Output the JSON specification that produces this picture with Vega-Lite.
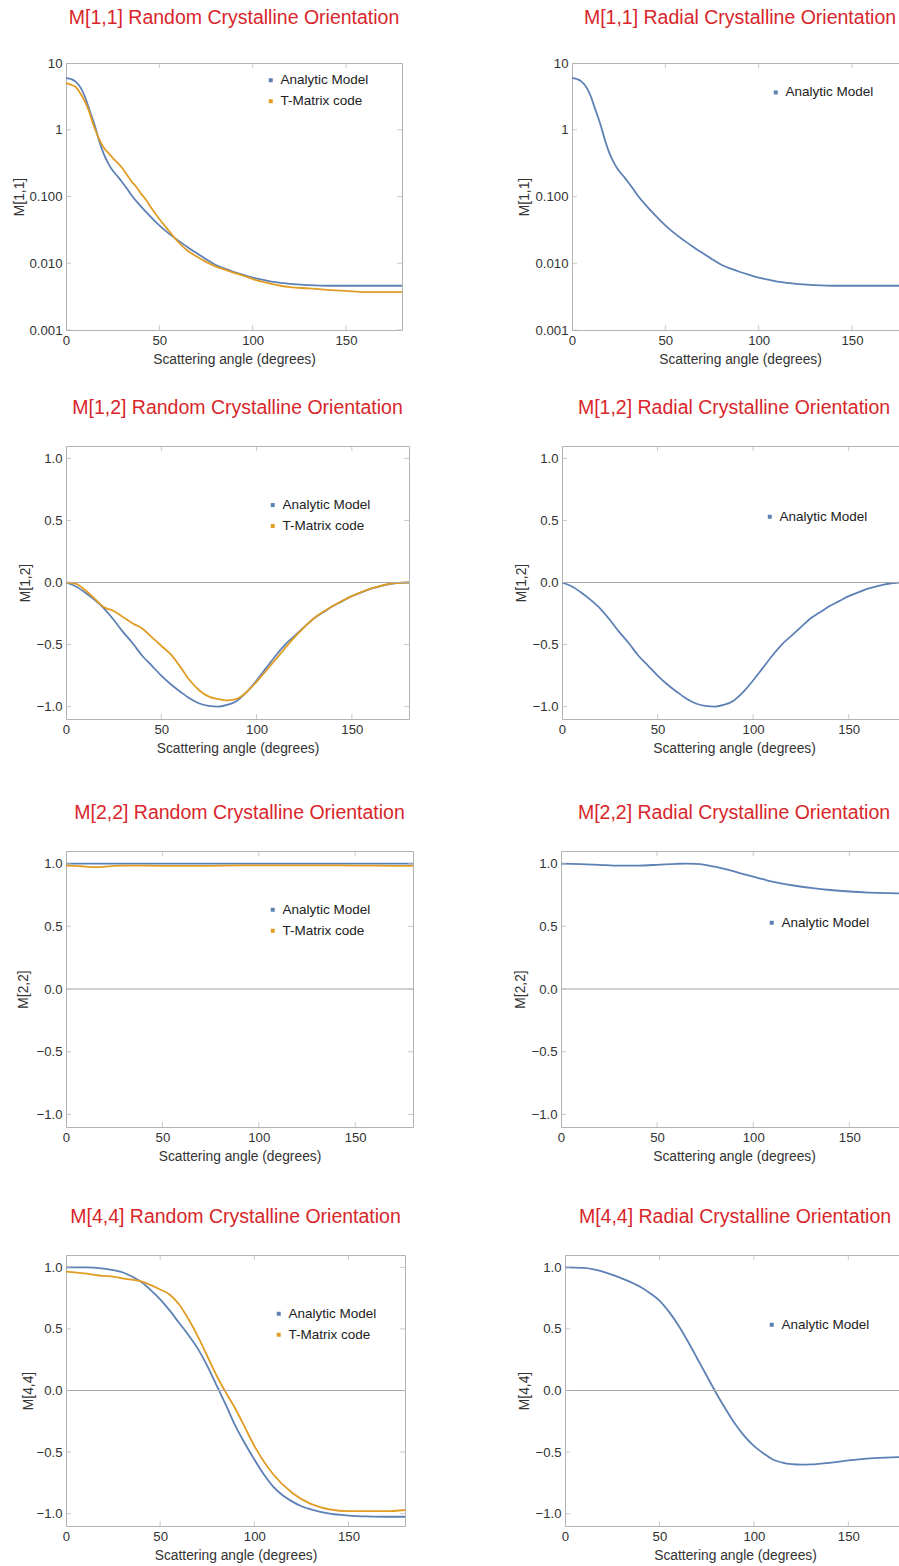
{
  "$schema": "https://vega.github.io/schema/vega-lite/v6.json",
  "background": "white",
  "padding": {"left": 12, "top": 7, "right": 0, "bottom": 0},
  "datasets": {
    "m11": [
      {"angle": 0, "series": "Analytic Model", "value": 6.0},
      {"angle": 3, "series": "Analytic Model", "value": 5.7},
      {"angle": 5, "series": "Analytic Model", "value": 5.3},
      {"angle": 8, "series": "Analytic Model", "value": 4.2},
      {"angle": 10, "series": "Analytic Model", "value": 3.2},
      {"angle": 12, "series": "Analytic Model", "value": 2.2},
      {"angle": 15, "series": "Analytic Model", "value": 1.26},
      {"angle": 18, "series": "Analytic Model", "value": 0.65},
      {"angle": 20, "series": "Analytic Model", "value": 0.45},
      {"angle": 23, "series": "Analytic Model", "value": 0.3},
      {"angle": 25, "series": "Analytic Model", "value": 0.245},
      {"angle": 28, "series": "Analytic Model", "value": 0.195},
      {"angle": 30, "series": "Analytic Model", "value": 0.165},
      {"angle": 33, "series": "Analytic Model", "value": 0.127},
      {"angle": 35, "series": "Analytic Model", "value": 0.105},
      {"angle": 38, "series": "Analytic Model", "value": 0.083},
      {"angle": 40, "series": "Analytic Model", "value": 0.072},
      {"angle": 45, "series": "Analytic Model", "value": 0.051},
      {"angle": 50, "series": "Analytic Model", "value": 0.037},
      {"angle": 55, "series": "Analytic Model", "value": 0.028},
      {"angle": 60, "series": "Analytic Model", "value": 0.022},
      {"angle": 65, "series": "Analytic Model", "value": 0.0175},
      {"angle": 70, "series": "Analytic Model", "value": 0.0142},
      {"angle": 75, "series": "Analytic Model", "value": 0.0115},
      {"angle": 80, "series": "Analytic Model", "value": 0.0095},
      {"angle": 85, "series": "Analytic Model", "value": 0.0083},
      {"angle": 90, "series": "Analytic Model", "value": 0.0074},
      {"angle": 95, "series": "Analytic Model", "value": 0.0067},
      {"angle": 100, "series": "Analytic Model", "value": 0.0061},
      {"angle": 105, "series": "Analytic Model", "value": 0.0057},
      {"angle": 110, "series": "Analytic Model", "value": 0.0053},
      {"angle": 115, "series": "Analytic Model", "value": 0.0051},
      {"angle": 120, "series": "Analytic Model", "value": 0.0049},
      {"angle": 130, "series": "Analytic Model", "value": 0.0047},
      {"angle": 140, "series": "Analytic Model", "value": 0.0046},
      {"angle": 150, "series": "Analytic Model", "value": 0.0046},
      {"angle": 160, "series": "Analytic Model", "value": 0.0046},
      {"angle": 170, "series": "Analytic Model", "value": 0.0046},
      {"angle": 180, "series": "Analytic Model", "value": 0.0046},
      {"angle": 0, "series": "T-Matrix code", "value": 5.0},
      {"angle": 3, "series": "T-Matrix code", "value": 4.7},
      {"angle": 5, "series": "T-Matrix code", "value": 4.4},
      {"angle": 8, "series": "T-Matrix code", "value": 3.4},
      {"angle": 10, "series": "T-Matrix code", "value": 2.7},
      {"angle": 12, "series": "T-Matrix code", "value": 2.0},
      {"angle": 15, "series": "T-Matrix code", "value": 1.12},
      {"angle": 18, "series": "T-Matrix code", "value": 0.7},
      {"angle": 20, "series": "T-Matrix code", "value": 0.55},
      {"angle": 23, "series": "T-Matrix code", "value": 0.44},
      {"angle": 25, "series": "T-Matrix code", "value": 0.38},
      {"angle": 28, "series": "T-Matrix code", "value": 0.31},
      {"angle": 30, "series": "T-Matrix code", "value": 0.27},
      {"angle": 33, "series": "T-Matrix code", "value": 0.205},
      {"angle": 35, "series": "T-Matrix code", "value": 0.17},
      {"angle": 38, "series": "T-Matrix code", "value": 0.135},
      {"angle": 40, "series": "T-Matrix code", "value": 0.112},
      {"angle": 43, "series": "T-Matrix code", "value": 0.088},
      {"angle": 45, "series": "T-Matrix code", "value": 0.072},
      {"angle": 50, "series": "T-Matrix code", "value": 0.046},
      {"angle": 55, "series": "T-Matrix code", "value": 0.031},
      {"angle": 60, "series": "T-Matrix code", "value": 0.021},
      {"angle": 65, "series": "T-Matrix code", "value": 0.0155},
      {"angle": 70, "series": "T-Matrix code", "value": 0.0126},
      {"angle": 75, "series": "T-Matrix code", "value": 0.0105},
      {"angle": 80, "series": "T-Matrix code", "value": 0.009},
      {"angle": 85, "series": "T-Matrix code", "value": 0.008},
      {"angle": 90, "series": "T-Matrix code", "value": 0.0072},
      {"angle": 95, "series": "T-Matrix code", "value": 0.0065},
      {"angle": 100, "series": "T-Matrix code", "value": 0.0058},
      {"angle": 105, "series": "T-Matrix code", "value": 0.0053},
      {"angle": 110, "series": "T-Matrix code", "value": 0.0049},
      {"angle": 115, "series": "T-Matrix code", "value": 0.0046},
      {"angle": 120, "series": "T-Matrix code", "value": 0.0044},
      {"angle": 130, "series": "T-Matrix code", "value": 0.0042},
      {"angle": 140, "series": "T-Matrix code", "value": 0.004},
      {"angle": 150, "series": "T-Matrix code", "value": 0.00385},
      {"angle": 160, "series": "T-Matrix code", "value": 0.0037},
      {"angle": 170, "series": "T-Matrix code", "value": 0.0037},
      {"angle": 180, "series": "T-Matrix code", "value": 0.0037}
    ],
    "m12": [
      {"angle": 0, "series": "Analytic Model", "value": 0},
      {"angle": 5, "series": "Analytic Model", "value": -0.03},
      {"angle": 10, "series": "Analytic Model", "value": -0.08},
      {"angle": 15, "series": "Analytic Model", "value": -0.14},
      {"angle": 20, "series": "Analytic Model", "value": -0.21},
      {"angle": 25, "series": "Analytic Model", "value": -0.3},
      {"angle": 30, "series": "Analytic Model", "value": -0.4},
      {"angle": 35, "series": "Analytic Model", "value": -0.49},
      {"angle": 40, "series": "Analytic Model", "value": -0.59},
      {"angle": 45, "series": "Analytic Model", "value": -0.67},
      {"angle": 50, "series": "Analytic Model", "value": -0.75},
      {"angle": 55, "series": "Analytic Model", "value": -0.82},
      {"angle": 60, "series": "Analytic Model", "value": -0.88},
      {"angle": 65, "series": "Analytic Model", "value": -0.935},
      {"angle": 70, "series": "Analytic Model", "value": -0.975},
      {"angle": 75, "series": "Analytic Model", "value": -0.995},
      {"angle": 80, "series": "Analytic Model", "value": -1.0},
      {"angle": 85, "series": "Analytic Model", "value": -0.985},
      {"angle": 90, "series": "Analytic Model", "value": -0.95},
      {"angle": 95, "series": "Analytic Model", "value": -0.88},
      {"angle": 100, "series": "Analytic Model", "value": -0.79},
      {"angle": 105, "series": "Analytic Model", "value": -0.69},
      {"angle": 110, "series": "Analytic Model", "value": -0.59},
      {"angle": 115, "series": "Analytic Model", "value": -0.5},
      {"angle": 120, "series": "Analytic Model", "value": -0.43},
      {"angle": 125, "series": "Analytic Model", "value": -0.36},
      {"angle": 130, "series": "Analytic Model", "value": -0.29},
      {"angle": 135, "series": "Analytic Model", "value": -0.24},
      {"angle": 140, "series": "Analytic Model", "value": -0.19},
      {"angle": 145, "series": "Analytic Model", "value": -0.15},
      {"angle": 150, "series": "Analytic Model", "value": -0.11},
      {"angle": 155, "series": "Analytic Model", "value": -0.08},
      {"angle": 160, "series": "Analytic Model", "value": -0.05},
      {"angle": 165, "series": "Analytic Model", "value": -0.03},
      {"angle": 170, "series": "Analytic Model", "value": -0.012},
      {"angle": 175, "series": "Analytic Model", "value": -0.003},
      {"angle": 180, "series": "Analytic Model", "value": 0},
      {"angle": 0, "series": "T-Matrix code", "value": 0},
      {"angle": 5, "series": "T-Matrix code", "value": -0.01},
      {"angle": 10, "series": "T-Matrix code", "value": -0.06},
      {"angle": 15, "series": "T-Matrix code", "value": -0.13},
      {"angle": 20, "series": "T-Matrix code", "value": -0.2},
      {"angle": 25, "series": "T-Matrix code", "value": -0.23},
      {"angle": 30, "series": "T-Matrix code", "value": -0.28},
      {"angle": 35, "series": "T-Matrix code", "value": -0.33},
      {"angle": 40, "series": "T-Matrix code", "value": -0.37},
      {"angle": 45, "series": "T-Matrix code", "value": -0.44},
      {"angle": 50, "series": "T-Matrix code", "value": -0.51},
      {"angle": 55, "series": "T-Matrix code", "value": -0.58},
      {"angle": 60, "series": "T-Matrix code", "value": -0.68},
      {"angle": 65, "series": "T-Matrix code", "value": -0.79},
      {"angle": 70, "series": "T-Matrix code", "value": -0.87},
      {"angle": 75, "series": "T-Matrix code", "value": -0.92},
      {"angle": 80, "series": "T-Matrix code", "value": -0.94},
      {"angle": 85, "series": "T-Matrix code", "value": -0.95},
      {"angle": 90, "series": "T-Matrix code", "value": -0.935},
      {"angle": 95, "series": "T-Matrix code", "value": -0.88},
      {"angle": 100, "series": "T-Matrix code", "value": -0.8},
      {"angle": 110, "series": "T-Matrix code", "value": -0.62},
      {"angle": 120, "series": "T-Matrix code", "value": -0.44},
      {"angle": 130, "series": "T-Matrix code", "value": -0.29},
      {"angle": 140, "series": "T-Matrix code", "value": -0.19},
      {"angle": 150, "series": "T-Matrix code", "value": -0.11},
      {"angle": 160, "series": "T-Matrix code", "value": -0.05},
      {"angle": 170, "series": "T-Matrix code", "value": -0.01},
      {"angle": 180, "series": "T-Matrix code", "value": 0}
    ],
    "m22rand": [
      {"angle": 0, "series": "Analytic Model", "value": 1.0},
      {"angle": 45, "series": "Analytic Model", "value": 1.0},
      {"angle": 90, "series": "Analytic Model", "value": 1.0},
      {"angle": 135, "series": "Analytic Model", "value": 1.0},
      {"angle": 180, "series": "Analytic Model", "value": 1.0},
      {"angle": 0, "series": "T-Matrix code", "value": 0.984},
      {"angle": 5, "series": "T-Matrix code", "value": 0.982},
      {"angle": 10, "series": "T-Matrix code", "value": 0.976},
      {"angle": 15, "series": "T-Matrix code", "value": 0.971},
      {"angle": 20, "series": "T-Matrix code", "value": 0.975},
      {"angle": 25, "series": "T-Matrix code", "value": 0.982},
      {"angle": 30, "series": "T-Matrix code", "value": 0.984},
      {"angle": 50, "series": "T-Matrix code", "value": 0.982},
      {"angle": 70, "series": "T-Matrix code", "value": 0.982},
      {"angle": 90, "series": "T-Matrix code", "value": 0.985},
      {"angle": 110, "series": "T-Matrix code", "value": 0.986},
      {"angle": 130, "series": "T-Matrix code", "value": 0.986},
      {"angle": 150, "series": "T-Matrix code", "value": 0.984},
      {"angle": 170, "series": "T-Matrix code", "value": 0.982},
      {"angle": 180, "series": "T-Matrix code", "value": 0.981}
    ],
    "m22rad": [
      {"angle": 0, "series": "Analytic Model", "value": 1.0},
      {"angle": 10, "series": "Analytic Model", "value": 0.996},
      {"angle": 20, "series": "Analytic Model", "value": 0.99},
      {"angle": 30, "series": "Analytic Model", "value": 0.983},
      {"angle": 40, "series": "Analytic Model", "value": 0.984},
      {"angle": 50, "series": "Analytic Model", "value": 0.99},
      {"angle": 60, "series": "Analytic Model", "value": 0.998},
      {"angle": 65, "series": "Analytic Model", "value": 1.0},
      {"angle": 70, "series": "Analytic Model", "value": 0.998},
      {"angle": 75, "series": "Analytic Model", "value": 0.99},
      {"angle": 80, "series": "Analytic Model", "value": 0.975},
      {"angle": 85, "series": "Analytic Model", "value": 0.957},
      {"angle": 90, "series": "Analytic Model", "value": 0.937},
      {"angle": 95, "series": "Analytic Model", "value": 0.916},
      {"angle": 100, "series": "Analytic Model", "value": 0.895},
      {"angle": 105, "series": "Analytic Model", "value": 0.875},
      {"angle": 110, "series": "Analytic Model", "value": 0.855},
      {"angle": 115, "series": "Analytic Model", "value": 0.84},
      {"angle": 120, "series": "Analytic Model", "value": 0.827},
      {"angle": 130, "series": "Analytic Model", "value": 0.806},
      {"angle": 140, "series": "Analytic Model", "value": 0.789},
      {"angle": 150, "series": "Analytic Model", "value": 0.777},
      {"angle": 160, "series": "Analytic Model", "value": 0.769},
      {"angle": 170, "series": "Analytic Model", "value": 0.764},
      {"angle": 180, "series": "Analytic Model", "value": 0.762}
    ],
    "m44rand": [
      {"angle": 0, "series": "Analytic Model", "value": 1.0},
      {"angle": 10, "series": "Analytic Model", "value": 1.0},
      {"angle": 20, "series": "Analytic Model", "value": 0.99},
      {"angle": 25, "series": "Analytic Model", "value": 0.978},
      {"angle": 30, "series": "Analytic Model", "value": 0.96},
      {"angle": 35, "series": "Analytic Model", "value": 0.925},
      {"angle": 40, "series": "Analytic Model", "value": 0.88},
      {"angle": 45, "series": "Analytic Model", "value": 0.815},
      {"angle": 50, "series": "Analytic Model", "value": 0.74},
      {"angle": 55, "series": "Analytic Model", "value": 0.65},
      {"angle": 60, "series": "Analytic Model", "value": 0.55},
      {"angle": 65, "series": "Analytic Model", "value": 0.45},
      {"angle": 70, "series": "Analytic Model", "value": 0.34},
      {"angle": 75, "series": "Analytic Model", "value": 0.2},
      {"angle": 80, "series": "Analytic Model", "value": 0.04},
      {"angle": 85, "series": "Analytic Model", "value": -0.12},
      {"angle": 90, "series": "Analytic Model", "value": -0.29},
      {"angle": 95, "series": "Analytic Model", "value": -0.43},
      {"angle": 100, "series": "Analytic Model", "value": -0.56},
      {"angle": 105, "series": "Analytic Model", "value": -0.68},
      {"angle": 110, "series": "Analytic Model", "value": -0.78},
      {"angle": 115, "series": "Analytic Model", "value": -0.85},
      {"angle": 120, "series": "Analytic Model", "value": -0.9},
      {"angle": 125, "series": "Analytic Model", "value": -0.94},
      {"angle": 130, "series": "Analytic Model", "value": -0.965},
      {"angle": 140, "series": "Analytic Model", "value": -1.0},
      {"angle": 150, "series": "Analytic Model", "value": -1.015},
      {"angle": 160, "series": "Analytic Model", "value": -1.022},
      {"angle": 170, "series": "Analytic Model", "value": -1.025},
      {"angle": 180, "series": "Analytic Model", "value": -1.025},
      {"angle": 0, "series": "T-Matrix code", "value": 0.965},
      {"angle": 10, "series": "T-Matrix code", "value": 0.95},
      {"angle": 20, "series": "T-Matrix code", "value": 0.93},
      {"angle": 25, "series": "T-Matrix code", "value": 0.925},
      {"angle": 30, "series": "T-Matrix code", "value": 0.91},
      {"angle": 40, "series": "T-Matrix code", "value": 0.885},
      {"angle": 45, "series": "T-Matrix code", "value": 0.856},
      {"angle": 50, "series": "T-Matrix code", "value": 0.82},
      {"angle": 55, "series": "T-Matrix code", "value": 0.78},
      {"angle": 60, "series": "T-Matrix code", "value": 0.7},
      {"angle": 65, "series": "T-Matrix code", "value": 0.58},
      {"angle": 70, "series": "T-Matrix code", "value": 0.44},
      {"angle": 75, "series": "T-Matrix code", "value": 0.28},
      {"angle": 80, "series": "T-Matrix code", "value": 0.12},
      {"angle": 85, "series": "T-Matrix code", "value": -0.02},
      {"angle": 90, "series": "T-Matrix code", "value": -0.15},
      {"angle": 95, "series": "T-Matrix code", "value": -0.3},
      {"angle": 100, "series": "T-Matrix code", "value": -0.45},
      {"angle": 110, "series": "T-Matrix code", "value": -0.68},
      {"angle": 120, "series": "T-Matrix code", "value": -0.83},
      {"angle": 130, "series": "T-Matrix code", "value": -0.92},
      {"angle": 140, "series": "T-Matrix code", "value": -0.965},
      {"angle": 150, "series": "T-Matrix code", "value": -0.98},
      {"angle": 160, "series": "T-Matrix code", "value": -0.98},
      {"angle": 170, "series": "T-Matrix code", "value": -0.98},
      {"angle": 180, "series": "T-Matrix code", "value": -0.97}
    ],
    "m44rad": [
      {"angle": 0, "series": "Analytic Model", "value": 1.0},
      {"angle": 10, "series": "Analytic Model", "value": 0.995},
      {"angle": 20, "series": "Analytic Model", "value": 0.965},
      {"angle": 30, "series": "Analytic Model", "value": 0.91},
      {"angle": 40, "series": "Analytic Model", "value": 0.84},
      {"angle": 45, "series": "Analytic Model", "value": 0.79},
      {"angle": 50, "series": "Analytic Model", "value": 0.73},
      {"angle": 55, "series": "Analytic Model", "value": 0.64},
      {"angle": 60, "series": "Analytic Model", "value": 0.53},
      {"angle": 65, "series": "Analytic Model", "value": 0.4},
      {"angle": 70, "series": "Analytic Model", "value": 0.26},
      {"angle": 75, "series": "Analytic Model", "value": 0.12},
      {"angle": 80, "series": "Analytic Model", "value": -0.02},
      {"angle": 85, "series": "Analytic Model", "value": -0.15},
      {"angle": 90, "series": "Analytic Model", "value": -0.27},
      {"angle": 95, "series": "Analytic Model", "value": -0.37},
      {"angle": 100, "series": "Analytic Model", "value": -0.45},
      {"angle": 105, "series": "Analytic Model", "value": -0.51},
      {"angle": 110, "series": "Analytic Model", "value": -0.56},
      {"angle": 115, "series": "Analytic Model", "value": -0.585},
      {"angle": 120, "series": "Analytic Model", "value": -0.598},
      {"angle": 125, "series": "Analytic Model", "value": -0.602},
      {"angle": 130, "series": "Analytic Model", "value": -0.6},
      {"angle": 140, "series": "Analytic Model", "value": -0.587},
      {"angle": 150, "series": "Analytic Model", "value": -0.568},
      {"angle": 160, "series": "Analytic Model", "value": -0.553},
      {"angle": 170, "series": "Analytic Model", "value": -0.545},
      {"angle": 180, "series": "Analytic Model", "value": -0.54}
    ],
    "xticks": [{"t": 0}, {"t": 50}, {"t": 100}, {"t": 150}],
    "ylogticks": [{"t": 0.001}, {"t": 0.01}, {"t": 0.1}, {"t": 1}, {"t": 10}],
    "ylinticks": [{"t": -1}, {"t": -0.5}, {"t": 0}, {"t": 0.5}, {"t": 1}]
  },
  "spacing": 30,
  "resolve": {"scale": {"color": "independent"}},
  "vconcat": [
    {
      "hconcat": [
        {
          "width": 336, "height": 267,
          "title": {"text": "M[1,1] Random Crystalline Orientation", "offset": 28},
          "layer": [
            {
              "data": {"name": "m11"},
              "mark": {"type": "line", "strokeWidth": 1.8, "interpolate": "monotone"},
              "encoding": {
                "x": {"field": "angle", "type": "quantitative", "scale": {"domain": [0, 180], "nice": false, "zero": false}, "axis": {"values": [0, 50, 100, 150], "title": "Scattering angle (degrees)"}},
                "y": {"field": "value", "type": "quantitative", "scale": {"type": "log", "domain": [0.001, 10], "nice": false}, "axis": {"values": [0.001, 0.01, 0.1, 1, 10], "labelExpr": "datum.value >= 1 ? format(datum.value, 'd') : format(datum.value, '.3f')", "title": "M[1,1]", "titlePadding": 2}},
                "color": {"field": "series", "type": "nominal", "scale": {"domain": ["Analytic Model", "T-Matrix code"], "range": ["#5e81b5", "#e19c24"]}, "legend": {"title": null, "legendX": 198, "legendY": 10.5}}
              }
            },
            {"data": {"name": "xticks"}, "mark": {"type": "tick", "orient": "vertical", "size": 10, "thickness": 1, "color": "#b3b3b3", "clip": true}, "encoding": {"x": {"field": "t", "type": "quantitative"}, "y": {"datum": 10}}},
            {"data": {"name": "xticks"}, "mark": {"type": "tick", "orient": "vertical", "size": 10, "thickness": 1, "color": "#b3b3b3", "clip": true}, "encoding": {"x": {"field": "t", "type": "quantitative"}, "y": {"datum": 0.001}}},
            {"data": {"name": "ylogticks"}, "mark": {"type": "tick", "orient": "horizontal", "size": 10, "thickness": 1, "color": "#b3b3b3", "clip": true}, "encoding": {"y": {"field": "t", "type": "quantitative"}, "x": {"datum": 0}}},
            {"data": {"name": "ylogticks"}, "mark": {"type": "tick", "orient": "horizontal", "size": 10, "thickness": 1, "color": "#b3b3b3", "clip": true}, "encoding": {"y": {"field": "t", "type": "quantitative"}, "x": {"datum": 180}}}
          ]
        },
        {
          "width": 336, "height": 267,
          "title": {"text": "M[1,1] Radial Crystalline Orientation", "offset": 28},
          "layer": [
            {
              "data": {"name": "m11"},
              "transform": [{"filter": "datum.series === 'Analytic Model'"}],
              "mark": {"type": "line", "strokeWidth": 1.8, "interpolate": "monotone"},
              "encoding": {
                "x": {"field": "angle", "type": "quantitative", "scale": {"domain": [0, 180], "nice": false, "zero": false}, "axis": {"values": [0, 50, 100, 150], "title": "Scattering angle (degrees)"}},
                "y": {"field": "value", "type": "quantitative", "scale": {"type": "log", "domain": [0.001, 10], "nice": false}, "axis": {"values": [0.001, 0.01, 0.1, 1, 10], "labelExpr": "datum.value >= 1 ? format(datum.value, 'd') : format(datum.value, '.3f')", "title": "M[1,1]"}},
                "color": {"field": "series", "type": "nominal", "scale": {"domain": ["Analytic Model"], "range": ["#5e81b5"]}, "legend": {"title": null, "legendX": 197, "legendY": 22.7}}
              }
            },
            {"data": {"name": "xticks"}, "mark": {"type": "tick", "orient": "vertical", "size": 10, "thickness": 1, "color": "#b3b3b3", "clip": true}, "encoding": {"x": {"field": "t", "type": "quantitative"}, "y": {"datum": 10}}},
            {"data": {"name": "xticks"}, "mark": {"type": "tick", "orient": "vertical", "size": 10, "thickness": 1, "color": "#b3b3b3", "clip": true}, "encoding": {"x": {"field": "t", "type": "quantitative"}, "y": {"datum": 0.001}}},
            {"data": {"name": "ylogticks"}, "mark": {"type": "tick", "orient": "horizontal", "size": 10, "thickness": 1, "color": "#b3b3b3", "clip": true}, "encoding": {"y": {"field": "t", "type": "quantitative"}, "x": {"datum": 0}}}
          ]
        }
      ],
      "spacing": 110,
      "resolve": {"scale": {"color": "independent"}}
    },
    {
      "spacing": 46,
      "resolve": {"scale": {"color": "independent"}},
      "vconcat": [
        {
          "hconcat": [
            {
              "width": 343, "height": 273,
              "title": {"text": "M[1,2] Random Crystalline Orientation", "offset": 28},
              "layer": [
                {
                  "data": {"name": "m12"},
                  "mark": {"type": "line", "strokeWidth": 1.8, "interpolate": "monotone"},
                  "encoding": {
                    "x": {"field": "angle", "type": "quantitative", "scale": {"domain": [0, 180], "nice": false, "zero": false}, "axis": {"values": [0, 50, 100, 150], "title": "Scattering angle (degrees)"}},
                    "y": {"field": "value", "type": "quantitative", "scale": {"domain": [-1.1, 1.1], "nice": false}, "axis": {"values": [-1, -0.5, 0, 0.5, 1], "format": ".1f", "title": "M[1,2]", "titlePadding": 3}},
                    "color": {"field": "series", "type": "nominal", "scale": {"domain": ["Analytic Model", "T-Matrix code"], "range": ["#5e81b5", "#e19c24"]}, "legend": {"title": null, "legendX": 200, "legendY": 52.3}}
                  }
                },
                {"data": {"values": [{}]}, "mark": {"type": "rule", "color": "#a8a8a8", "strokeWidth": 1}, "encoding": {"y": {"datum": 0}}},
                {"data": {"name": "xticks"}, "mark": {"type": "tick", "orient": "vertical", "size": 10, "thickness": 1, "color": "#b3b3b3", "clip": true}, "encoding": {"x": {"field": "t", "type": "quantitative"}, "y": {"datum": 1.1}}},
                {"data": {"name": "xticks"}, "mark": {"type": "tick", "orient": "vertical", "size": 10, "thickness": 1, "color": "#b3b3b3", "clip": true}, "encoding": {"x": {"field": "t", "type": "quantitative"}, "y": {"datum": -1.1}}},
                {"data": {"name": "ylinticks"}, "mark": {"type": "tick", "orient": "horizontal", "size": 10, "thickness": 1, "color": "#b3b3b3", "clip": true}, "encoding": {"y": {"field": "t", "type": "quantitative"}, "x": {"datum": 0}}},
                {"data": {"name": "ylinticks"}, "mark": {"type": "tick", "orient": "horizontal", "size": 10, "thickness": 1, "color": "#b3b3b3", "clip": true}, "encoding": {"y": {"field": "t", "type": "quantitative"}, "x": {"datum": 180}}}
              ]
            },
            {
              "width": 344, "height": 273,
              "title": {"text": "M[1,2] Radial Crystalline Orientation", "offset": 28},
              "layer": [
                {
                  "data": {"name": "m12"},
                  "transform": [{"filter": "datum.series === 'Analytic Model'"}],
                  "mark": {"type": "line", "strokeWidth": 1.8, "interpolate": "monotone"},
                  "encoding": {
                    "x": {"field": "angle", "type": "quantitative", "scale": {"domain": [0, 180], "nice": false, "zero": false}, "axis": {"values": [0, 50, 100, 150], "title": "Scattering angle (degrees)"}},
                    "y": {"field": "value", "type": "quantitative", "scale": {"domain": [-1.1, 1.1], "nice": false}, "axis": {"values": [-1, -0.5, 0, 0.5, 1], "format": ".1f", "title": "M[1,2]"}},
                    "color": {"field": "series", "type": "nominal", "scale": {"domain": ["Analytic Model"], "range": ["#5e81b5"]}, "legend": {"title": null, "legendX": 201, "legendY": 64}}
                  }
                },
                {"data": {"values": [{}]}, "mark": {"type": "rule", "color": "#a8a8a8", "strokeWidth": 1}, "encoding": {"y": {"datum": 0}}},
                {"data": {"name": "xticks"}, "mark": {"type": "tick", "orient": "vertical", "size": 10, "thickness": 1, "color": "#b3b3b3", "clip": true}, "encoding": {"x": {"field": "t", "type": "quantitative"}, "y": {"datum": 1.1}}},
                {"data": {"name": "xticks"}, "mark": {"type": "tick", "orient": "vertical", "size": 10, "thickness": 1, "color": "#b3b3b3", "clip": true}, "encoding": {"x": {"field": "t", "type": "quantitative"}, "y": {"datum": -1.1}}},
                {"data": {"name": "ylinticks"}, "mark": {"type": "tick", "orient": "horizontal", "size": 10, "thickness": 1, "color": "#b3b3b3", "clip": true}, "encoding": {"y": {"field": "t", "type": "quantitative"}, "x": {"datum": 0}}}
              ]
            }
          ],
          "spacing": 100,
          "resolve": {"scale": {"color": "independent"}}
        },
        {
          "spacing": 42,
          "resolve": {"scale": {"color": "independent"}},
          "vconcat": [
            {
              "hconcat": [
                {
                  "width": 347, "height": 276,
                  "title": {"text": "M[2,2] Random Crystalline Orientation", "offset": 28},
                  "layer": [
                    {
                      "data": {"name": "m22rand"},
                      "mark": {"type": "line", "strokeWidth": 1.8, "interpolate": "monotone"},
                      "encoding": {
                        "x": {"field": "angle", "type": "quantitative", "scale": {"domain": [0, 180], "nice": false, "zero": false}, "axis": {"values": [0, 50, 100, 150], "title": "Scattering angle (degrees)"}},
                        "y": {"field": "value", "type": "quantitative", "scale": {"domain": [-1.1, 1.1], "nice": false}, "axis": {"values": [-1, -0.5, 0, 0.5, 1], "format": ".1f", "title": "M[2,2]", "titlePadding": 5}},
                        "color": {"field": "series", "type": "nominal", "scale": {"domain": ["Analytic Model", "T-Matrix code"], "range": ["#5e81b5", "#e19c24"]}, "legend": {"title": null, "legendX": 200, "legendY": 52}}
                      }
                    },
                    {"data": {"values": [{}]}, "mark": {"type": "rule", "color": "#a8a8a8", "strokeWidth": 1}, "encoding": {"y": {"datum": 0}}},
                    {"data": {"name": "xticks"}, "mark": {"type": "tick", "orient": "vertical", "size": 10, "thickness": 1, "color": "#b3b3b3", "clip": true}, "encoding": {"x": {"field": "t", "type": "quantitative"}, "y": {"datum": 1.1}}},
                    {"data": {"name": "xticks"}, "mark": {"type": "tick", "orient": "vertical", "size": 10, "thickness": 1, "color": "#b3b3b3", "clip": true}, "encoding": {"x": {"field": "t", "type": "quantitative"}, "y": {"datum": -1.1}}},
                    {"data": {"name": "ylinticks"}, "mark": {"type": "tick", "orient": "horizontal", "size": 10, "thickness": 1, "color": "#b3b3b3", "clip": true}, "encoding": {"y": {"field": "t", "type": "quantitative"}, "x": {"datum": 0}}},
                    {"data": {"name": "ylinticks"}, "mark": {"type": "tick", "orient": "horizontal", "size": 10, "thickness": 1, "color": "#b3b3b3", "clip": true}, "encoding": {"y": {"field": "t", "type": "quantitative"}, "x": {"datum": 180}}}
                  ]
                },
                {
                  "width": 346, "height": 276,
                  "title": {"text": "M[2,2] Radial Crystalline Orientation", "offset": 28},
                  "layer": [
                    {
                      "data": {"name": "m22rad"},
                      "mark": {"type": "line", "strokeWidth": 1.8, "interpolate": "monotone"},
                      "encoding": {
                        "x": {"field": "angle", "type": "quantitative", "scale": {"domain": [0, 180], "nice": false, "zero": false}, "axis": {"values": [0, 50, 100, 150], "title": "Scattering angle (degrees)"}},
                        "y": {"field": "value", "type": "quantitative", "scale": {"domain": [-1.1, 1.1], "nice": false}, "axis": {"values": [-1, -0.5, 0, 0.5, 1], "format": ".1f", "title": "M[2,2]"}},
                        "color": {"field": "series", "type": "nominal", "scale": {"domain": ["Analytic Model"], "range": ["#5e81b5"]}, "legend": {"title": null, "legendX": 204, "legendY": 65}}
                      }
                    },
                    {"data": {"values": [{}]}, "mark": {"type": "rule", "color": "#a8a8a8", "strokeWidth": 1}, "encoding": {"y": {"datum": 0}}},
                    {"data": {"name": "xticks"}, "mark": {"type": "tick", "orient": "vertical", "size": 10, "thickness": 1, "color": "#b3b3b3", "clip": true}, "encoding": {"x": {"field": "t", "type": "quantitative"}, "y": {"datum": 1.1}}},
                    {"data": {"name": "xticks"}, "mark": {"type": "tick", "orient": "vertical", "size": 10, "thickness": 1, "color": "#b3b3b3", "clip": true}, "encoding": {"x": {"field": "t", "type": "quantitative"}, "y": {"datum": -1.1}}},
                    {"data": {"name": "ylinticks"}, "mark": {"type": "tick", "orient": "horizontal", "size": 10, "thickness": 1, "color": "#b3b3b3", "clip": true}, "encoding": {"y": {"field": "t", "type": "quantitative"}, "x": {"datum": 0}}}
                  ]
                }
              ],
              "spacing": 95,
              "resolve": {"scale": {"color": "independent"}}
            },
            {
              "hconcat": [
                {
                  "width": 339, "height": 271,
                  "title": {"text": "M[4,4] Random Crystalline Orientation", "offset": 28},
                  "layer": [
                    {
                      "data": {"name": "m44rand"},
                      "mark": {"type": "line", "strokeWidth": 1.8, "interpolate": "monotone"},
                      "encoding": {
                        "x": {"field": "angle", "type": "quantitative", "scale": {"domain": [0, 180], "nice": false, "zero": false}, "axis": {"values": [0, 50, 100, 150], "title": "Scattering angle (degrees)"}},
                        "y": {"field": "value", "type": "quantitative", "scale": {"domain": [-1.1, 1.1], "nice": false}, "axis": {"values": [-1, -0.5, 0, 0.5, 1], "format": ".1f", "title": "M[4,4]", "titlePadding": 0}},
                        "color": {"field": "series", "type": "nominal", "scale": {"domain": ["Analytic Model", "T-Matrix code"], "range": ["#5e81b5", "#e19c24"]}, "legend": {"title": null, "legendX": 206, "legendY": 52}}
                      }
                    },
                    {"data": {"values": [{}]}, "mark": {"type": "rule", "color": "#a8a8a8", "strokeWidth": 1}, "encoding": {"y": {"datum": 0}}},
                    {"data": {"name": "xticks"}, "mark": {"type": "tick", "orient": "vertical", "size": 10, "thickness": 1, "color": "#b3b3b3", "clip": true}, "encoding": {"x": {"field": "t", "type": "quantitative"}, "y": {"datum": 1.1}}},
                    {"data": {"name": "xticks"}, "mark": {"type": "tick", "orient": "vertical", "size": 10, "thickness": 1, "color": "#b3b3b3", "clip": true}, "encoding": {"x": {"field": "t", "type": "quantitative"}, "y": {"datum": -1.1}}},
                    {"data": {"name": "ylinticks"}, "mark": {"type": "tick", "orient": "horizontal", "size": 10, "thickness": 1, "color": "#b3b3b3", "clip": true}, "encoding": {"y": {"field": "t", "type": "quantitative"}, "x": {"datum": 0}}},
                    {"data": {"name": "ylinticks"}, "mark": {"type": "tick", "orient": "horizontal", "size": 10, "thickness": 1, "color": "#b3b3b3", "clip": true}, "encoding": {"y": {"field": "t", "type": "quantitative"}, "x": {"datum": 180}}}
                  ]
                },
                {
                  "width": 340, "height": 271,
                  "title": {"text": "M[4,4] Radial Crystalline Orientation", "offset": 28},
                  "layer": [
                    {
                      "data": {"name": "m44rad"},
                      "mark": {"type": "line", "strokeWidth": 1.8, "interpolate": "monotone"},
                      "encoding": {
                        "x": {"field": "angle", "type": "quantitative", "scale": {"domain": [0, 180], "nice": false, "zero": false}, "axis": {"values": [0, 50, 100, 150], "title": "Scattering angle (degrees)"}},
                        "y": {"field": "value", "type": "quantitative", "scale": {"domain": [-1.1, 1.1], "nice": false}, "axis": {"values": [-1, -0.5, 0, 0.5, 1], "format": ".1f", "title": "M[4,4]"}},
                        "color": {"field": "series", "type": "nominal", "scale": {"domain": ["Analytic Model"], "range": ["#5e81b5"]}, "legend": {"title": null, "legendX": 200, "legendY": 63}}
                      }
                    },
                    {"data": {"values": [{}]}, "mark": {"type": "rule", "color": "#a8a8a8", "strokeWidth": 1}, "encoding": {"y": {"datum": 0}}},
                    {"data": {"name": "xticks"}, "mark": {"type": "tick", "orient": "vertical", "size": 10, "thickness": 1, "color": "#b3b3b3", "clip": true}, "encoding": {"x": {"field": "t", "type": "quantitative"}, "y": {"datum": 1.1}}},
                    {"data": {"name": "xticks"}, "mark": {"type": "tick", "orient": "vertical", "size": 10, "thickness": 1, "color": "#b3b3b3", "clip": true}, "encoding": {"x": {"field": "t", "type": "quantitative"}, "y": {"datum": -1.1}}},
                    {"data": {"name": "ylinticks"}, "mark": {"type": "tick", "orient": "horizontal", "size": 10, "thickness": 1, "color": "#b3b3b3", "clip": true}, "encoding": {"y": {"field": "t", "type": "quantitative"}, "x": {"datum": 0}}}
                  ]
                }
              ],
              "spacing": 107,
              "resolve": {"scale": {"color": "independent"}}
            }
          ]
        }
      ]
    }
  ],
  "config": {
    "font": "Liberation Sans",
    "view": {"stroke": "#b3b3b3", "strokeWidth": 1},
    "axis": {
      "domain": false, "grid": false, "ticks": false,
      "labelPadding": 4, "labelFontSize": 13.2, "labelColor": "#333333", "labelFont": "Liberation Sans",
      "labelFlush": false, "labelOverlap": false,
      "titleFontSize": 13.8, "titleFontWeight": "normal", "titleColor": "#333333", "titleFont": "Liberation Sans"
    },
    "axisX": {"titlePadding": 6},
    "axisY": {"titlePadding": 3},
    "title": {"fontSize": 19.5, "fontWeight": "normal", "color": "#d8262b", "font": "Liberation Sans", "frame": "group", "anchor": "middle"},
    "legend": {
      "orient": "none", "symbolType": "square", "symbolSize": 4, "symbolStrokeWidth": 2,
      "labelFontSize": 13.5, "labelColor": "#222222", "labelFont": "Liberation Sans",
      "labelOffset": 3, "rowPadding": 6, "padding": 0
    }
  }
}
